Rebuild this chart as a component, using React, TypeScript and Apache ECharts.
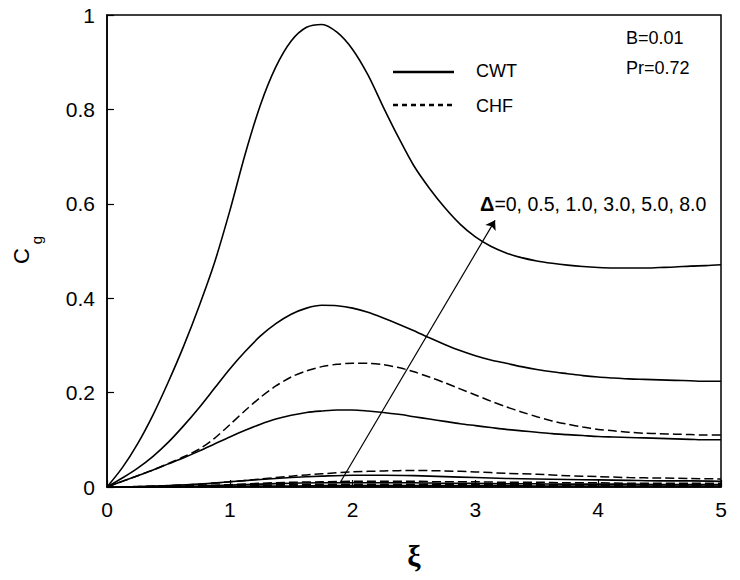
import React, { useEffect, useRef } from "react";
import * as echarts from "echarts";

// fine xi grid for the four large curves
const xiFine = [0, 0.125, 0.25, 0.375, 0.5, 0.625, 0.75, 0.875, 1, 1.125, 1.25, 1.375, 1.5, 1.625, 1.75, 1.875, 2, 2.125, 2.25, 2.375, 2.5, 2.625, 2.75, 2.875, 3, 3.125, 3.25, 3.375, 3.5, 3.625, 3.75, 3.875, 4, 4.125, 4.25, 4.375, 4.5, 4.625, 4.75, 4.875, 5];
// coarse xi grid for the curves near zero
const xiCoarse = [0, 0.25, 0.5, 0.75, 1, 1.25, 1.5, 1.75, 2, 2.25, 2.5, 2.75, 3, 3.25, 3.5, 3.75, 4, 4.25, 4.5, 4.75, 5];

// CWT (solid)
const cwt8 = [0, 0.041, 0.092, 0.153, 0.223, 0.299, 0.383, 0.475, 0.585, 0.705, 0.81, 0.89, 0.945, 0.974, 0.98, 0.963, 0.927, 0.873, 0.805, 0.74, 0.68, 0.633, 0.592, 0.557, 0.53, 0.51, 0.496, 0.486, 0.479, 0.474, 0.47, 0.467, 0.465, 0.464, 0.464, 0.464, 0.465, 0.466, 0.468, 0.469, 0.471];
const cwt5 = [0, 0.019, 0.04, 0.065, 0.095, 0.13, 0.168, 0.209, 0.25, 0.287, 0.32, 0.346, 0.366, 0.379, 0.385, 0.384, 0.379, 0.37, 0.358, 0.345, 0.331, 0.316, 0.302, 0.289, 0.278, 0.269, 0.262, 0.255, 0.249, 0.244, 0.24, 0.236, 0.233, 0.231, 0.229, 0.228, 0.227, 0.226, 0.225, 0.224, 0.224];
const cwt3 = [0, 0.012, 0.024, 0.036, 0.049, 0.062, 0.076, 0.091, 0.106, 0.12, 0.133, 0.144, 0.152, 0.158, 0.161, 0.163, 0.163, 0.161, 0.158, 0.154, 0.149, 0.144, 0.139, 0.134, 0.13, 0.126, 0.122, 0.119, 0.116, 0.113, 0.111, 0.109, 0.107, 0.106, 0.105, 0.104, 0.103, 0.102, 0.101, 0.1, 0.1];
const cwt1 = [0, 0.001, 0.003, 0.006, 0.011, 0.016, 0.02, 0.023, 0.025, 0.025, 0.024, 0.022, 0.02, 0.018, 0.017, 0.016, 0.015, 0.014, 0.013, 0.013, 0.012];
const cwt05 = [0, 0, 0.001, 0.002, 0.004, 0.006, 0.008, 0.009, 0.009, 0.009, 0.009, 0.008, 0.008, 0.007, 0.007, 0.006, 0.006, 0.006, 0.005, 0.005, 0.005];
const cwt0 = [0, 0, 0, 0.001, 0.001, 0.002, 0.002, 0.003, 0.003, 0.003, 0.003, 0.003, 0.003, 0.003, 0.002, 0.002, 0.002, 0.002, 0.002, 0.002, 0.002];

// CHF (dashed)
const chf8 = [0, 0.012, 0.024, 0.036, 0.05, 0.064, 0.08, 0.103, 0.132, 0.162, 0.19, 0.214, 0.233, 0.246, 0.255, 0.26, 0.262, 0.262, 0.259, 0.253, 0.244, 0.233, 0.221, 0.208, 0.195, 0.182, 0.17, 0.159, 0.149, 0.14, 0.133, 0.127, 0.122, 0.119, 0.116, 0.114, 0.113, 0.112, 0.111, 0.11, 0.11];
const chf5 = [0, 0.001, 0.003, 0.006, 0.011, 0.017, 0.023, 0.028, 0.032, 0.034, 0.035, 0.034, 0.032, 0.029, 0.027, 0.024, 0.022, 0.02, 0.019, 0.018, 0.017];
const chf3 = [0, 0, 0.001, 0.003, 0.005, 0.008, 0.01, 0.011, 0.012, 0.012, 0.012, 0.011, 0.011, 0.01, 0.01, 0.009, 0.009, 0.008, 0.008, 0.008, 0.008];
const chf1 = [0, 0, 0.001, 0.002, 0.003, 0.004, 0.005, 0.006, 0.006, 0.006, 0.006, 0.006, 0.005, 0.005, 0.005, 0.005, 0.004, 0.004, 0.004, 0.004, 0.004];
const chf05 = [0, 0, 0, 0.001, 0.001, 0.002, 0.002, 0.002, 0.003, 0.003, 0.003, 0.003, 0.002, 0.002, 0.002, 0.002, 0.002, 0.002, 0.002, 0.002, 0.002];
const chf0 = [0, 0, 0, 0, 0.001, 0.001, 0.001, 0.001, 0.001, 0.001, 0.001, 0.001, 0.001, 0.001, 0.001, 0.001, 0.001, 0.001, 0.001, 0.001, 0.001];

const cwtSeries = [cwt0, cwt05, cwt1, cwt3, cwt5, cwt8];
const chfSeries = [chf0, chf05, chf1, chf3, chf5, chf8];
const deltaValues = ["0", "0.5", "1.0", "3.0", "5.0", "8.0"];

const arrowFrom = [1.9, 0.01];
const arrowTo = [3.16, 0.565];

const xTicks = { min: 0, max: 5, interval: 1 };
const yTicks = { min: 0, max: 1, interval: 0.2 };

const FONT = "Liberation Sans, Arial, sans-serif";

export default function App() {
  const ref = useRef<HTMLDivElement>(null);
  useEffect(() => {
    if (!ref.current) return;
    const chart = echarts.init(ref.current, undefined, { renderer: "svg" });
    const pair = (arr: number[]) => {
      const xs = arr.length === xiFine.length ? xiFine : xiCoarse;
      return xs.map((x, i) => [x, arr[i]]);
    };
    const series: any[] = [];
    cwtSeries.forEach((arr, i) => {
      series.push({
        type: "line",
        name: "CWT Δ=" + deltaValues[i],
        data: pair(arr),
        smooth: 0.3,
        showSymbol: false,
        symbol: "none",
        lineStyle: { color: "#000", width: 1.6, type: "solid" },
      });
    });
    chfSeries.forEach((arr, i) => {
      series.push({
        type: "line",
        name: "CHF Δ=" + deltaValues[i],
        data: pair(arr),
        smooth: 0.3,
        showSymbol: false,
        symbol: "none",
        lineStyle: { color: "#000", width: 1.5, type: [9, 4] },
      });
    });
    series.push({
      type: "lines",
      coordinateSystem: "cartesian2d",
      data: [{ coords: [arrowFrom, arrowTo] }],
      symbol: ["none", "arrow"],
      symbolSize: [0, 9],
      lineStyle: { color: "#000", width: 1.2, opacity: 1, curveness: 0 },
      silent: true,
    });

    chart.setOption({
      animation: false,
      backgroundColor: "#fff",
      grid: {
        left: 107,
        right: 19,
        top: 15,
        bottom: 93,
        show: true,
        borderColor: "#000",
        borderWidth: 1.5,
        backgroundColor: "transparent",
      },
      xAxis: {
        type: "value",
        min: xTicks.min,
        max: xTicks.max,
        interval: xTicks.interval,
        axisLine: { show: true, onZero: false, lineStyle: { color: "#000", width: 1.5 } },
        axisTick: { show: true, inside: true, length: 7, lineStyle: { color: "#000", width: 1.2 } },
        axisLabel: { color: "#000", fontSize: 21, fontFamily: FONT, margin: 12 },
        splitLine: { show: false },
        name: "ξ",
        nameLocation: "middle",
        nameGap: 53,
        nameTextStyle: { color: "#000", fontSize: 30, fontWeight: "bold", fontFamily: "Liberation Serif, serif" },
      },
      yAxis: {
        type: "value",
        min: yTicks.min,
        max: yTicks.max,
        interval: yTicks.interval,
        axisLine: { show: true, onZero: false, lineStyle: { color: "#000", width: 1.5 } },
        axisTick: { show: true, inside: true, length: 7, lineStyle: { color: "#000", width: 1.2 } },
        axisLabel: { color: "#000", fontSize: 21, fontFamily: FONT, margin: 12 },
        splitLine: { show: false },
      },
      series,
      graphic: [
        {
          type: "text",
          x: 21,
          y: 256,
          rotation: Math.PI / 2,
          style: { text: "C", fontSize: 22, fontFamily: FONT, fill: "#000", align: "center", verticalAlign: "middle" },
        },
        {
          type: "text",
          x: 36,
          y: 240,
          rotation: Math.PI / 2,
          style: { text: "g", fontSize: 15, fontFamily: FONT, fill: "#000", align: "center", verticalAlign: "middle" },
        },
        { type: "line", shape: { x1: 393, y1: 72, x2: 454, y2: 72 }, style: { stroke: "#000", lineWidth: 2.5 } },
        { type: "line", shape: { x1: 393, y1: 105, x2: 454, y2: 105 }, style: { stroke: "#000", lineWidth: 2.5, lineDash: [5, 4] } },
        { type: "text", x: 476, y: 71, style: { text: "CWT", fontSize: 18, fontFamily: FONT, fill: "#000", verticalAlign: "middle" } },
        { type: "text", x: 476, y: 106, style: { text: "CHF", fontSize: 18, fontFamily: FONT, fill: "#000", verticalAlign: "middle" } },
        { type: "text", x: 626, y: 38, style: { text: "B=0.01", fontSize: 18, fontFamily: FONT, fill: "#000", verticalAlign: "middle" } },
        { type: "text", x: 626, y: 68, style: { text: "Pr=0.72", fontSize: 18, fontFamily: FONT, fill: "#000", verticalAlign: "middle" } },
        {
          type: "text",
          x: 480,
          y: 204,
          style: {
            text: "{d|Δ}{n|=" + deltaValues.join(", ") + "}",
            verticalAlign: "middle",
            rich: {
              d: { fontSize: 20, fontWeight: "bold", fontFamily: FONT, fill: "#000", color: "#000" },
              n: { fontSize: 19.5, fontFamily: FONT, fill: "#000", color: "#000" },
            },
          },
        },
      ],
    });
    return () => chart.dispose();
  }, []);
  return <div ref={ref} style={{ position: "absolute", left: 0, top: 0, width: 740, height: 580 }} />;
}
